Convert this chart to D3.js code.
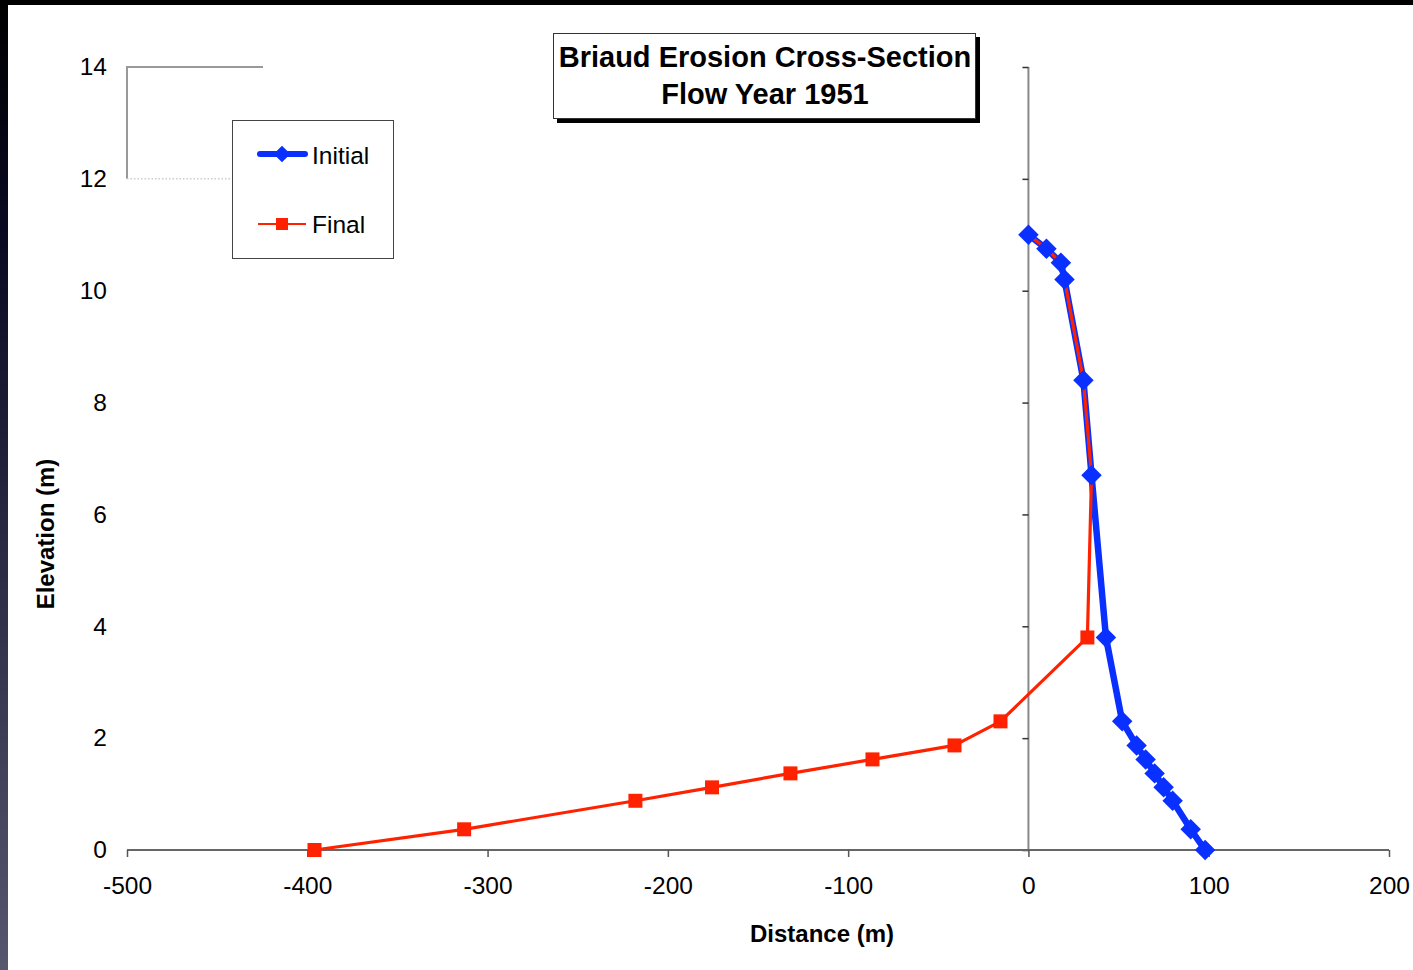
<!DOCTYPE html>
<html>
<head>
<meta charset="utf-8">
<script src="https://cdn.jsdelivr.net/npm/d3@7"></script>
<style>
  body { margin: 0; background: #fff; }
  text { font-family: "Liberation Sans", Arial, sans-serif; fill: #000; }
</style>
</head>
<body>
<svg width="1413" height="970"></svg>
<script>
// data
var initialX = [0, 10, 18, 20, 30.5, 35, 43, 52, 60, 65, 70, 75, 80, 90, 98];
var initialY = [11, 10.75, 10.5, 10.2, 8.4, 6.7, 3.8, 2.3, 1.87, 1.62, 1.37, 1.12, 0.88, 0.37, 0];
var finalX = [-396, -313, -218, -175.5, -132, -86.5, -41, -15.5, 32.7, 35, 30.5, 20, 18, 10, 0];
var finalY = [0, 0.37, 0.88, 1.12, 1.37, 1.62, 1.87, 2.3, 3.8, 6.7, 8.4, 10.2, 10.5, 10.75, 11];
var xTicks = [-500, -400, -300, -200, -100, 0, 100, 200];
var yTicks = [0, 2, 4, 6, 8, 10, 12, 14];

var initial = initialX.map(function(x, i) { return {x: x, y: initialY[i]}; });
var final = finalX.map(function(x, i) { return {x: x, y: finalY[i]}; });

var svg = d3.select("svg");

// frame: dark strip on the left, black bar on top
var grad = svg.append("defs").append("linearGradient")
    .attr("id", "side").attr("x1", 0).attr("y1", 0).attr("x2", 0).attr("y2", 1);
grad.append("stop").attr("offset", "0%").attr("stop-color", "#000");
grad.append("stop").attr("offset", "25%").attr("stop-color", "#0a0a24");
grad.append("stop").attr("offset", "100%").attr("stop-color", "#56566e");
svg.append("rect").attr("x", 0).attr("y", 0).attr("width", 1413).attr("height", 5).attr("fill", "#000");
svg.append("rect").attr("x", 0).attr("y", 0).attr("width", 8).attr("height", 970).attr("fill", "url(#side)");

var x = d3.scaleLinear().domain([-500, 200]).range([127, 1389]);
var y = d3.scaleLinear().domain([0, 14]).range([850, 67]);
var plain = function(d) { return String(d); };   // hyphen, not unicode minus

// leftover plot-area lines at top left
svg.append("path")
    .attr("d", d3.line()([[263, y(14)], [x(-500), y(14)], [x(-500), y(12)]]))
    .attr("fill", "none").attr("stroke", "#999").attr("stroke-width", 2);
svg.append("line")
    .attr("x1", x(-500)).attr("x2", 232).attr("y1", y(12)).attr("y2", y(12))
    .attr("stroke", "#ccc").attr("stroke-width", 1.5).attr("stroke-dasharray", "1.5,2");

// y tick labels on the far left
var yLabels = svg.append("g").attr("transform", "translate(" + x(-500) + ",0)")
    .call(d3.axisLeft(y).tickValues(yTicks).tickSize(0).tickPadding(20).tickFormat(plain));
yLabels.select(".domain").remove();
yLabels.selectAll("text").attr("font-size", "24.5px").attr("font-family", null);

// y axis at x = 0
var yAxis = svg.append("g").attr("transform", "translate(" + x(0) + ",0)")
    .call(d3.axisLeft(y).tickValues(yTicks).tickSize(6).tickFormat(""));
yAxis.select(".domain").attr("stroke", "#888").attr("stroke-width", 2).attr("d", "M0," + y(14) + "V" + y(0));
yAxis.selectAll(".tick line").attr("stroke", "#333").attr("stroke-width", 1.5);

// x axis at y = 0
var xAxis = svg.append("g").attr("transform", "translate(0," + y(0) + ")")
    .call(d3.axisBottom(x).tickValues(xTicks).tickSize(7).tickPadding(20).tickFormat(plain));
xAxis.select(".domain").attr("stroke", "#666").attr("stroke-width", 2).attr("d", "M" + x(-500) + ",0H" + x(200));
xAxis.selectAll(".tick line").attr("stroke", "#555").attr("stroke-width", 1.5);
xAxis.selectAll("text").attr("font-size", "24.5px").attr("font-family", null);

var line = d3.line().x(function(d) { return x(d.x); }).y(function(d) { return y(d.y); });
var blue = "#0a30ff", red = "#ff2200";

svg.append("path").datum(initial).attr("d", line)
    .attr("fill", "none").attr("stroke", blue).attr("stroke-width", 6.5).attr("stroke-linejoin", "round");
svg.append("path").datum(final).attr("d", line)
    .attr("fill", "none").attr("stroke", red).attr("stroke-width", 3.2).attr("stroke-linejoin", "round");

// final markers where they aren't hidden under initial ones
var shared = function(d) { return initial.some(function(p) { return p.x == d.x && p.y == d.y; }); };
svg.selectAll(".sq").data(final.filter(function(d) { return !shared(d); }))
  .enter().append("rect").attr("class", "sq")
    .attr("x", function(d) { return x(d.x) - 7; })
    .attr("y", function(d) { return y(d.y) - 7; })
    .attr("width", 14).attr("height", 14).attr("fill", red);

svg.selectAll(".dm").data(initial)
  .enter().append("path").attr("class", "dm")
    .attr("transform", function(d) { return "translate(" + x(d.x) + "," + y(d.y) + ") rotate(45)"; })
    .attr("d", d3.symbol().type(d3.symbolSquare).size(210))
    .attr("fill", blue);

// title box with shadow
svg.append("rect").attr("x", 557).attr("y", 37).attr("width", 423).attr("height", 86).attr("fill", "#000");
svg.append("rect").attr("x", 553.5).attr("y", 33.5).attr("width", 422).attr("height", 85)
    .attr("fill", "#fff").attr("stroke", "#333").attr("stroke-width", 1);
svg.append("text").attr("x", 765).attr("y", 67).attr("text-anchor", "middle")
    .attr("font-size", "29px").attr("font-weight", "bold").text("Briaud Erosion Cross-Section");
svg.append("text").attr("x", 765).attr("y", 104).attr("text-anchor", "middle")
    .attr("font-size", "29px").attr("font-weight", "bold").text("Flow Year 1951");

// legend
var leg = svg.append("g");
leg.append("rect").attr("x", 232.5).attr("y", 120.5).attr("width", 161).attr("height", 138)
    .attr("fill", "#fff").attr("stroke", "#444").attr("stroke-width", 1);
leg.append("line").attr("x1", 260).attr("x2", 305).attr("y1", 154).attr("y2", 154)
    .attr("stroke", blue).attr("stroke-width", 6).attr("stroke-linecap", "round");
leg.append("path").attr("transform", "translate(282,154) rotate(45)")
    .attr("d", d3.symbol().type(d3.symbolSquare).size(140)).attr("fill", blue);
leg.append("text").attr("x", 312).attr("y", 164).attr("font-size", "24.5px").text("Initial");
leg.append("line").attr("x1", 258).attr("x2", 306).attr("y1", 224).attr("y2", 224)
    .attr("stroke", red).attr("stroke-width", 2);
leg.append("rect").attr("x", 276).attr("y", 218).attr("width", 12).attr("height", 12).attr("fill", red);
leg.append("text").attr("x", 312).attr("y", 233).attr("font-size", "24.5px").text("Final");

// axis titles
svg.append("text").attr("x", 822).attr("y", 942).attr("text-anchor", "middle")
    .attr("font-size", "24px").attr("font-weight", "bold").text("Distance (m)");
svg.append("text").attr("transform", "translate(54,534) rotate(-90)").attr("text-anchor", "middle")
    .attr("font-size", "24px").attr("font-weight", "bold").text("Elevation (m)");
</script>
</body>
</html>
